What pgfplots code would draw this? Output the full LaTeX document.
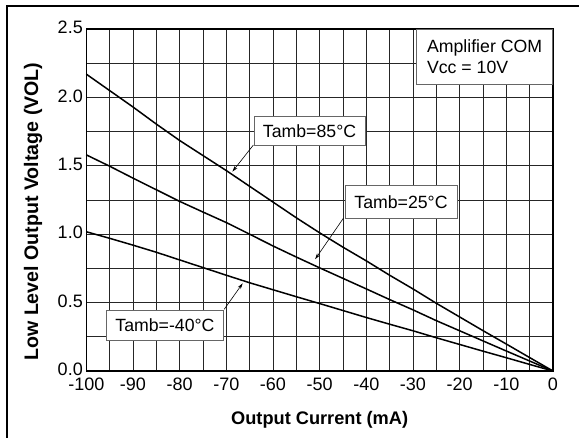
\documentclass[border=0pt]{standalone}
\usepackage{pgfplots}
\pgfplotsset{compat=1.18}
\usepackage{fontspec}
\setmainfont{Liberation Sans}
\usetikzlibrary{arrows.meta}
\tikzset{
  lbl/.style={draw=black!60, line width=0.8pt, fill=white, inner sep=0pt, font=\fontsize{17.7}{21}\selectfont},
  arr/.style={black, line width=0.6pt, -{Stealth[length=6pt,width=3.5pt]}},
  crv/.style={black, line width=1.5pt, mark=none},
}
\begin{document}
\begin{tikzpicture}[x=1pt,y=1pt]
\path[use as bounding box] (0,0) rectangle (579,437);
\draw[line width=2pt] (7,-5) -- (7,431.3) -- (585,431.3);
\begin{axis}[
  at={(86.3pt,66pt)}, anchor=south west,
  width=466.7pt, height=342pt, scale only axis,
  xmin=-100, xmax=0, ymin=0, ymax=2.5,
  clip=false,
  xtick={-100,-90,-80,-70,-60,-50,-40,-30,-20,-10,0},
  ytick={0,0.5,1.0,1.5,2.0,2.5},
  minor xtick={-95,-85,-75,-65,-55,-45,-35,-25,-15,-5},
  minor ytick={0.25,0.75,1.25,1.75,2.25},
  grid=both,
  major grid style={black!85, line width=0.75pt},
  minor grid style={black!85, line width=0.75pt},
  major tick length=0pt, minor tick length=0pt,
  axis line style={black, line width=1.1pt},
  /pgf/number format/assume math mode=true,
  tick label style={font=\fontsize{18}{21}\selectfont},
  yticklabel style={yshift=1.5pt, /pgf/number format/.cd, fixed, fixed zerofill, precision=1},
  xticklabel style={yshift=-3.5pt, /pgf/number format/.cd, fixed, precision=0},
  xlabel={\textbf{Output Current (mA)}},
  ylabel={\textbf{Low Level Output Voltage (VOL)}},
  xlabel style={font=\fontsize{18.2}{21}\selectfont, at={(axis description cs:0.5,-0.1433)}, anchor=center},
  ylabel style={font=\fontsize{19.6}{22}\selectfont, at={(axis description cs:-0.1142,0.466)}, anchor=center},
]
% Tamb = 85 C
\addplot[crv] coordinates {(-100,2.17)(-95,2.05)(-90,1.93)(-85,1.805)(-80,1.685)(-75,1.575)(-70,1.465)(-65,1.35)(-60,1.235)(-55,1.12)(-50,1.01)(-45,0.905)(-40,0.805)(-35,0.70)(-30,0.60)(-25,0.495)(-20,0.395)(-15,0.295)(-10,0.197)(-5,0.098)(0,0)};
% Tamb = 25 C
\addplot[crv] coordinates {(-100,1.58)(-95,1.497)(-90,1.41)(-85,1.325)(-80,1.24)(-75,1.162)(-70,1.085)(-65,1.0)(-60,0.914)(-55,0.833)(-50,0.754)(-45,0.677)(-40,0.60)(-35,0.522)(-30,0.447)(-25,0.368)(-20,0.294)(-15,0.22)(-10,0.146)(-5,0.073)(0,0)};
% Tamb = -40 C
\addplot[crv] coordinates {(-100,1.018)(-95,0.97)(-90,0.92)(-85,0.868)(-80,0.812)(-75,0.756)(-70,0.70)(-65,0.645)(-60,0.594)(-55,0.543)(-50,0.493)(-45,0.442)(-40,0.391)(-35,0.342)(-30,0.294)(-25,0.243)(-20,0.194)(-15,0.145)(-10,0.097)(-5,0.048)(0,0)};
\draw[arr] (axis cs:-64.2,1.652) -- (axis cs:-68.7,1.457);
\draw[arr] (axis cs:-44.93,1.116) -- (axis cs:-50.96,0.817);
\draw[arr] (axis cs:-70.45,0.451) -- (axis cs:-66.49,0.641);
\node[lbl, minimum width=111pt, minimum height=29.5pt] at (axis cs:-52.17,1.754) {Tamb=85°C};
\node[lbl, minimum width=112pt, minimum height=33pt] at (axis cs:-32.57,1.235) {Tamb=25°C};
\node[lbl, minimum width=116.6pt, minimum height=29.3pt] at (axis cs:-83.14,0.334) {Tamb=-40°C};
\node[lbl, anchor=north east, minimum width=136pt, minimum height=55pt, align=left] at (rel axis cs:1,1) {Amplifier COM\\Vcc = 10V};
\end{axis}
\end{tikzpicture}
\end{document}
